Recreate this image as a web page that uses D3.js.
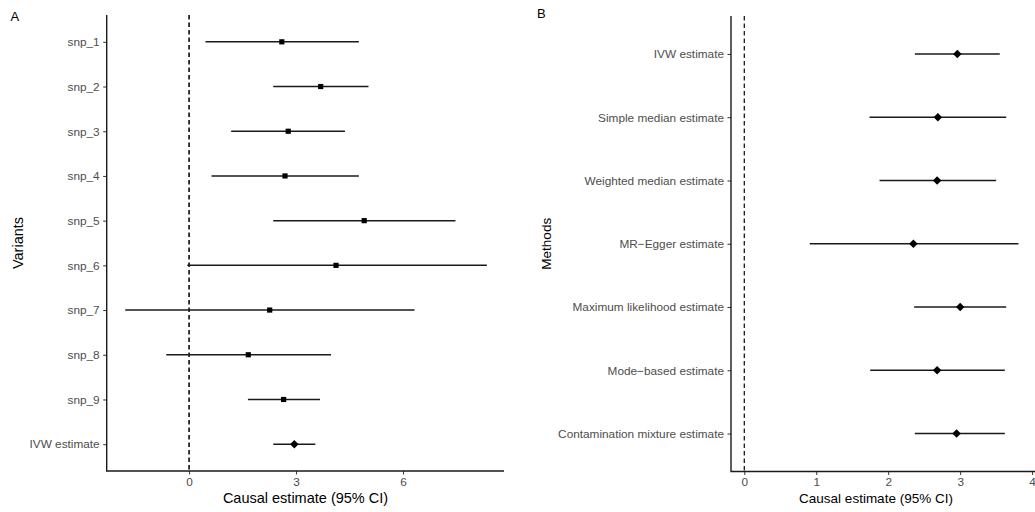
<!DOCTYPE html>
<html lang="en">
<head>
<meta charset="utf-8">
<title>MR forest plots</title>
<script src="https://d3js.org/d3.v7.min.js"></script>
<style>
  body { margin: 0; background: #fff; }
  text { font-family: "Liberation Sans", Arial, sans-serif; }
</style>
</head>
<body>
<svg width="1035" height="512" id="mainsvg"></svg>
<script>
// panel A data
const variants = ["snp_1", "snp_2", "snp_3", "snp_4", "snp_5", "snp_6", "snp_7", "snp_8", "snp_9", "IVW estimate"];
const varEst = [2.60, 3.69, 2.78, 2.69, 4.91, 4.12, 2.26, 1.66, 2.65, 2.95];
const varLo  = [0.46, 2.36, 1.18, 0.63, 2.36, -0.05, -1.79, -0.64, 1.65, 2.36];
const varHi  = [4.76, 5.03, 4.37, 4.76, 7.47, 8.35, 6.32, 3.98, 3.67, 3.54];
const ticksA = [0, 3, 6];

// panel B data
const methods = ["IVW estimate", "Simple median estimate", "Weighted median estimate", "MR\u2212Egger estimate",
                 "Maximum likelihood estimate", "Mode\u2212based estimate", "Contamination mixture estimate"];
const methEst = [2.96, 2.69, 2.68, 2.35, 3.00, 2.68, 2.95];
const methLo  = [2.37, 1.74, 1.88, 0.91, 2.36, 1.75, 2.37];
const methHi  = [3.55, 3.64, 3.50, 3.81, 3.64, 3.62, 3.62];
const ticksB = [0, 1, 2, 3, 4];

const svg = d3.select('#mainsvg');
const ink = '#1a1a1a';

const drawPanel = function (opt) {
    const g = svg.append('g');
    const xScale = d3.scaleLinear().domain(opt.xDomain).range([opt.left, opt.right]);
    const yScale = d3.scalePoint().domain(opt.cats).range([opt.top, opt.bottom]).padding(0.6);

    const rows = opt.cats.map((c, i) => ({ cat: c, est: opt.est[i], lo: opt.lo[i], hi: opt.hi[i], diamond: opt.diamond(c) }));

    // dashed reference line at zero
    g.append('line')
        .attr('x1', xScale(0)).attr('x2', xScale(0))
        .attr('y1', opt.top).attr('y2', opt.bottom)
        .attr('stroke', ink).attr('stroke-width', opt.dashW)
        .attr('stroke-dasharray', '4.5,3');

    // axes
    const xAxis = d3.axisBottom(xScale).tickValues(opt.ticks).tickSize(3.5).tickPadding(3).tickFormat(d3.format('d'));
    const yAxis = d3.axisLeft(yScale).tickSize(3.5).tickPadding(3.5);

    const xg = g.append('g').attr('transform', `translate(0, ${opt.bottom})`).call(xAxis);
    const yg = g.append('g').attr('transform', `translate(${opt.left}, 0)`).call(yAxis);
    [xg, yg].forEach(a => {
        a.select('.domain').remove();
        a.selectAll('.tick line').attr('stroke', '#333');
        a.selectAll('.tick text').attr('fill', '#4d4d4d').attr('font-size', opt.tickSize)
            .attr('font-family', '"Liberation Sans", Arial, sans-serif');
    });
    // axis lines (L shape)
    g.append('path')
        .attr('d', `M${opt.left},${opt.top}V${opt.bottom}H${opt.right}`)
        .attr('fill', 'none').attr('stroke', ink).attr('stroke-width', 1.4);

    // error bars
    g.selectAll('.ci').data(rows).enter().append('line')
        .attr('class', 'ci')
        .attr('x1', d => xScale(d.lo)).attr('x2', d => xScale(d.hi))
        .attr('y1', d => yScale(d.cat)).attr('y2', d => yScale(d.cat))
        .attr('stroke', ink).attr('stroke-width', 1.5);

    // points
    g.selectAll('.pt').data(rows).enter().append('path')
        .attr('class', 'pt')
        .attr('d', d => d.diamond ? d3.symbol(d3.symbolSquare, 36)() : d3.symbol(d3.symbolSquare, 27)())
        .attr('transform', d => `translate(${xScale(d.est)}, ${yScale(d.cat)})` + (d.diamond ? ' rotate(45)' : ''))
        .attr('fill', '#000');

    // titles
    g.append('text')
        .attr('x', opt.titleX).attr('y', 503)
        .attr('text-anchor', 'middle').attr('font-size', opt.titleSize).attr('fill', '#000')
        .text('Causal estimate (95% CI)');
    g.append('text')
        .attr('transform', `translate(${opt.yTitleX}, ${(opt.top + opt.bottom) / 2}) rotate(-90)`)
        .attr('text-anchor', 'middle').attr('font-size', opt.titleSize).attr('fill', '#000')
        .text(opt.yTitle);
    g.append('text')
        .attr('x', opt.tagX).attr('y', opt.tagY)
        .attr('font-size', 13).attr('fill', '#000')
        .text(opt.tag);
};

drawPanel({
    cats: variants, est: varEst, lo: varLo, hi: varHi, ticks: ticksA,
    xDomain: [-2.31, 8.83], left: 106.7, right: 504, top: 15, bottom: 471,
    diamond: c => c === 'IVW estimate', tickSize: 11.8, titleSize: 14.5, dashW: 1.7,
    titleX: 305.5, yTitleX: 23, yTitle: 'Variants', tag: 'A', tagX: 10.5, tagY: 21
});

drawPanel({
    cats: methods, est: methEst, lo: methLo, hi: methHi, ticks: ticksB,
    xDomain: [-0.185, 4.04], left: 731, right: 1035, top: 16, bottom: 471.5,
    diamond: c => true, tickSize: 11.8, titleSize: 13.5, dashW: 1.3,
    titleX: 876, yTitleX: 551, yTitle: 'Methods', tag: 'B', tagX: 537, tagY: 18
});
</script>
</body>
</html>
